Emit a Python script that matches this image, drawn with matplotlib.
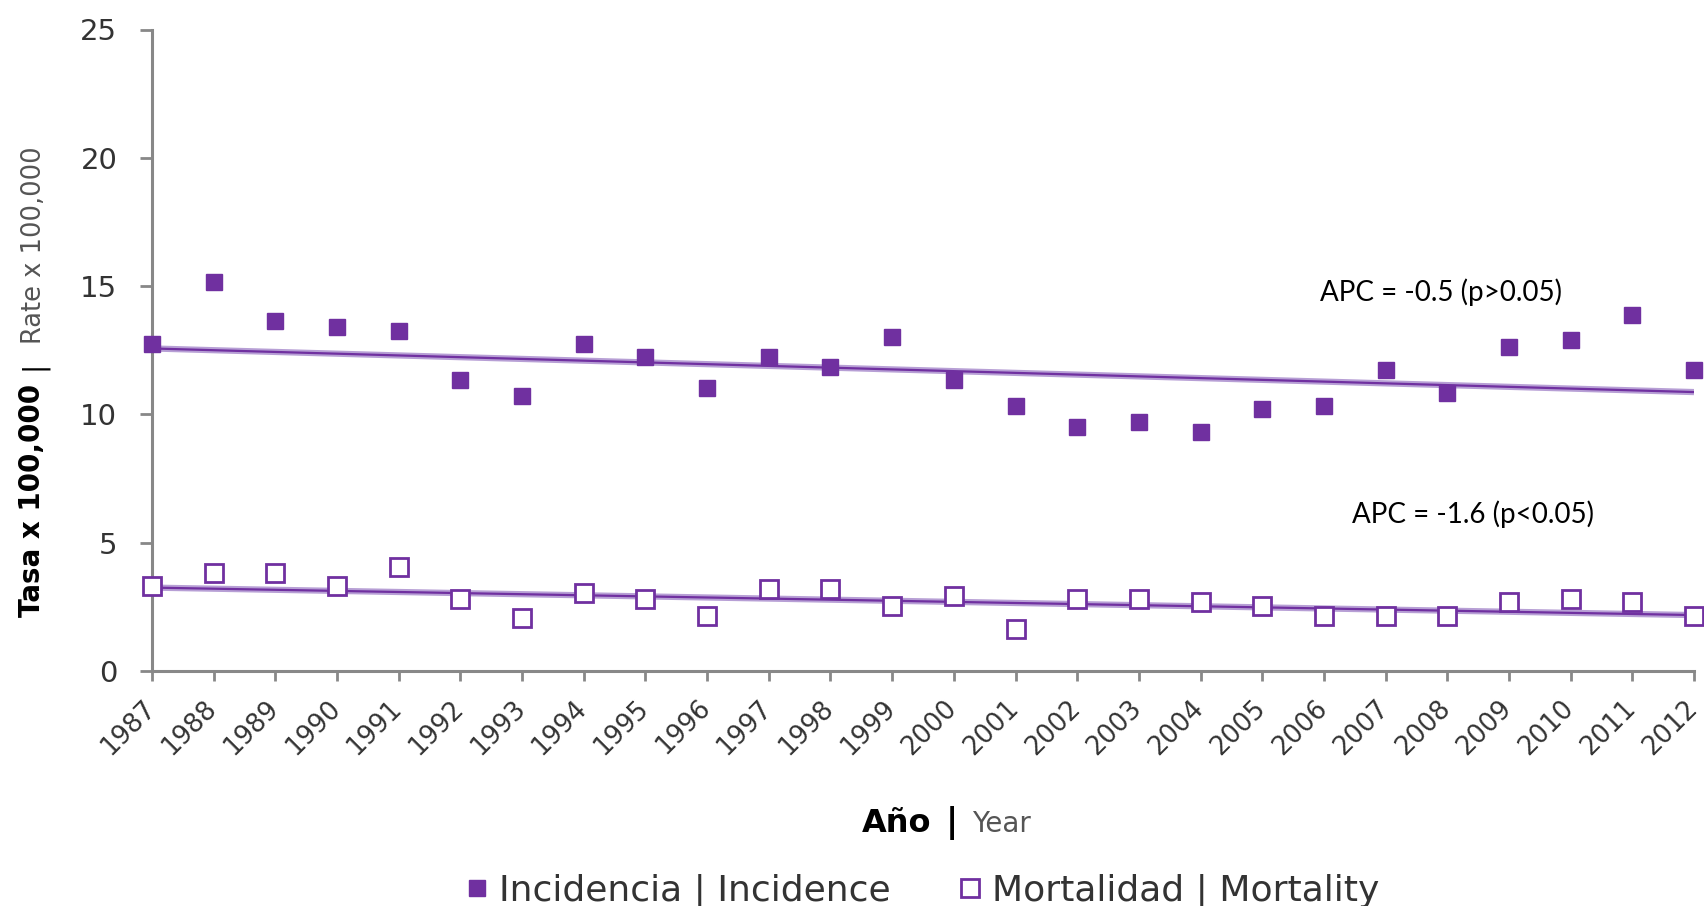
import numpy as np
import matplotlib
matplotlib.use("Agg")
import matplotlib.pyplot as plt
from matplotlib.lines import Line2D

# data
years = list(range(1987, 2013))
incidence = [12.75, 15.15, 13.64, 13.39, 13.26, 11.36, 10.72, 12.75, 12.25, 11.02,
             12.25, 11.86, 13.00, 11.36, 10.34, 9.49, 9.70, 9.32, 10.21, 10.34,
             11.74, 10.85, 12.63, 12.88, 13.86, 11.74]
mortality = [3.31, 3.81, 3.81, 3.31, 4.07, 2.80, 2.08, 3.05, 2.80, 2.16,
             3.18, 3.18, 2.54, 2.92, 1.65, 2.80, 2.80, 2.67, 2.54, 2.16,
             2.16, 2.16, 2.67, 2.80, 2.67, 2.16]
trend_years = [1987, 2012]
trend_incidence = [12.57, 10.87]
trend_mortality = [3.25, 2.18]
apc_labels = ["APC = -0.5 (p>0.05)", "APC = -1.6 (p<0.05)"]
y_ticks = [0, 5, 10, 15, 20, 25]

W, H = 1704, 906
purple = '#7030A0'
light = '#B79FD5'
gray = '#888888'
txt = '#333333'

fig = plt.figure(figsize=(W / 100, H / 100), dpi=100)
ax = fig.add_axes([152 / W, 1 - 671 / H, (1694 - 152) / W, (671 - 29.5) / H])

# trend lines (light band under a dark line)
for ty in [trend_incidence, trend_mortality]:
    ax.plot(trend_years, ty, color=light, lw=4.5, solid_capstyle='butt', zorder=2)
    ax.plot(trend_years, ty, color=purple, lw=1.6, solid_capstyle='butt', zorder=3)

ax.plot(years, incidence, linestyle='none', marker='s', ms=12.2, color=purple,
        mec=purple, zorder=4, clip_on=False)
ax.plot(years, mortality, linestyle='none', marker='s', ms=12.4, mfc='white',
        mec=purple, mew=2.0, zorder=4, clip_on=False)

ax.set_xlim(years[0], years[-1])
ax.set_ylim(0, 25)
ax.set_yticks(y_ticks)
ax.set_xticks(years)
ax.set_xticklabels([])
# year labels drawn by hand, rotated and nudged left so 2012 stays inside
for y in years:
    ax.annotate(str(y), xy=(y, 0), xycoords=('data', 'axes fraction'),
                xytext=(-10, -24), textcoords='offset pixels', rotation=45,
                ha='right', va='top', rotation_mode='anchor', fontsize=18.5,
                color=txt, annotation_clip=False)

for s in ['top', 'right']:
    ax.spines[s].set_visible(False)
for s in ['left', 'bottom']:
    ax.spines[s].set_color(gray)
    ax.spines[s].set_linewidth(2.2)
ax.tick_params(axis='y', direction='out', length=9, width=2, color=gray,
               labelsize=21, labelcolor=txt, pad=16)
ax.tick_params(axis='x', direction='out', length=7, width=2, color=gray)

# APC annotations
fig.text(1441 / W, 1 - 301 / H, apc_labels[0], family='Lato', fontsize=20,
         ha='center', va='baseline', color='black')
fig.text(1473 / W, 1 - 523 / H, apc_labels[1], family='Lato', fontsize=20,
         ha='center', va='baseline', color='black')

# y label in pieces
fig.text(32 / W, 1 - 617 / H, "Tasa x 100,000", rotation=90, fontsize=20,
         fontweight='bold', ha='center', va='bottom', color='black')
fig.text(33 / W, 1 - 365 / H, "|", rotation=90, fontsize=20,
         ha='center', va='center', color='black')
fig.text(34 / W, 1 - 344 / H, "Rate x 100,000", rotation=90, fontsize=18.5,
         ha='center', va='bottom', color='#555555')

# x label in pieces
fig.text(862 / W, 1 - 832 / H, "Año", fontsize=23, fontweight='bold',
         ha='left', va='baseline', color='black')
fig.text(952 / W, 1 - 832 / H, "|", fontsize=24, fontweight='bold',
         ha='center', va='baseline', color='black')
fig.text(972 / W, 1 - 832 / H, "Year", fontsize=20,
         ha='left', va='baseline', color='#555555')

handles = [
    Line2D([], [], linestyle='none', marker='s', ms=12.2, color=purple),
    Line2D([], [], linestyle='none', marker='s', ms=12.4, mfc='white', mec=purple, mew=2.0),
]
leg = fig.legend(handles, ["Incidencia | Incidence", "Mortalidad | Mortality"],
                 loc='center', bbox_to_anchor=(921 / W, 1 - 891 / H), ncol=2,
                 frameon=False, fontsize=26, handlelength=0.8, handletextpad=0.2,
                 columnspacing=1.8, borderpad=0, borderaxespad=0)
for t in leg.get_texts():
    t.set_color(txt)

fig.savefig("out.png", dpi=100)
